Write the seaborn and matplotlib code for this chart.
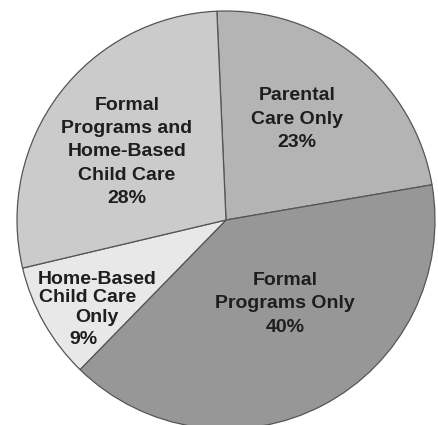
import matplotlib
matplotlib.use("Agg")
import matplotlib.pyplot as plt
import seaborn as sns

sns.set_theme(style="white")
plt.rcParams['font.family'] = ['Liberation Sans', 'DejaVu Sans']

categories = ["Parental\nCare Only", "Formal\nPrograms Only", "Home-Based\nChild Care\nOnly",
              "Formal\nPrograms and\nHome-Based\nChild Care"]
values = [23, 40, 9, 28]
colors = ["#b4b4b4", "#979797", "#e8e8e8", "#cbcbcb"]

fig = plt.figure(figsize=(4.39, 4.25), dpi=100)
R = 209
cx, cy = 226, 425 - 220
ax = fig.add_axes([(cx - R) / 439, (cy - R) / 425, 2 * R / 439, 2 * R / 425])
ax.pie(values, colors=colors, startangle=92.5, counterclock=False, radius=1,
       wedgeprops=dict(edgecolor="#555555", linewidth=0.9), normalize=True)
ax.set_xlim(-1, 1)
ax.set_ylim(-1, 1)
ax.set_aspect("equal")
ax.axis("off")

def px(x, y):
    return ((x - 226) / 209, (220 - y) / 209)

tkw = dict(fontsize=14, fontweight="bold", color="#1e1e1e", ha="center", va="center",
           linespacing=1.48)
# Parental
x, y = px(297, 119)
ax.text(x, y, f"{categories[0]}\n{values[0]}%", **tkw)
# Formal only
x, y = px(285, 304)
ax.text(x, y, f"{categories[1]}\n{values[1]}%", **tkw)
# Formal + Home
x, y = px(127, 152)
ax.text(x, y, f"{categories[3]}\n{values[3]}%", **tkw)
# Home-Based only (lines individually placed)
hb_lines = categories[2].split("\n") + [f"{values[2]}%"]
hb_pos = [(97, 279), (88, 298), (97, 318), (83, 339)]
for line, (lx, ly) in zip(hb_lines, hb_pos):
    x, y = px(lx, ly)
    ax.text(x, y, line, **tkw)

fig.savefig("out.png", dpi=100)
